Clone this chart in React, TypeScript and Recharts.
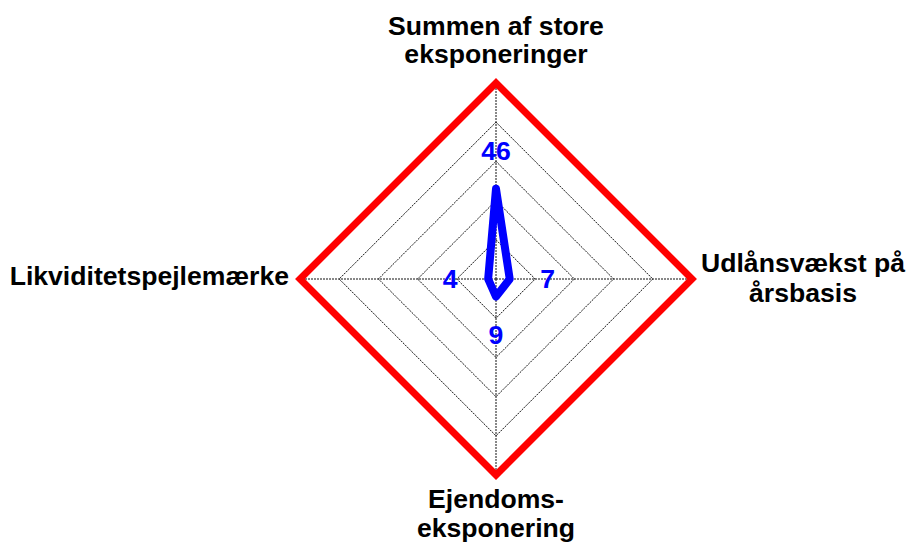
import React from 'react';
import { RadarChart, Radar, PolarGrid, PolarAngleAxis, PolarRadiusAxis } from 'recharts';

const categories = [
  'Summen af store eksponeringer',
  'Udlånsvækst på årsbasis',
  'Ejendomseksponering',
  'Likviditetspejlemærke',
];
const categoryLines: string[][] = [
  ['Summen af store', 'eksponeringer'],
  ['Udlånsvækst på', 'årsbasis'],
  ['Ejendoms-', 'eksponering'],
  ['Likviditetspejlemærke'],
];
const values = [46, 7, 9, 4];
const limits = [100, 100, 100, 100];
const radiusDomain = [0, 100];

const data = categories.map((c, i) => ({ category: c, value: values[i], limit: limits[i] }));

const CX = 496;
const CY = 279;
const R = 196;
const FONT = '"Liberation Sans", Arial, Helvetica, sans-serif';
const FS = 26.6;

const tickLayout = [
  { anchor: 'middle', dx: 0, baselines: [-R - 48, -R - 20] },
  { anchor: 'middle', dx: R + 111, baselines: [-7, 23] },
  { anchor: 'middle', dx: 0, baselines: [R + 33, R + 62] },
  { anchor: 'end', dx: -R - 11, baselines: [6] },
];

const AngleTick = (props: any) => {
  const { payload } = props;
  const i = categories.indexOf(payload?.value);
  if (i < 0) return <g />;
  const lay = tickLayout[i];
  const lines = categoryLines[i];
  return (
    <g>
      {lines.map((ln, k) => (
        <text
          key={k}
          x={CX + lay.dx}
          y={CY + lay.baselines[k]}
          textAnchor={lay.anchor as any}
          fontFamily={FONT}
          fontWeight="bold"
          fontSize={FS}
          fill="#000"
        >
          {ln}
        </text>
      ))}
    </g>
  );
};

const ValueLabelDot = (props: any) => {
  const { cx, cy, index, payload } = props;
  const n = categories.length;
  const angle = typeof payload?.angle === 'number' ? payload.angle : 90 - (index * 360) / n;
  const val = payload?.value ?? values[index];
  const rad = (angle * Math.PI) / 180;
  const off = 38;
  const lx = cx + off * Math.cos(rad);
  const ly = cy - off * Math.sin(rad);
  return (
    <text
      key={`lbl-${index}`}
      x={lx}
      y={ly + 9}
      textAnchor="middle"
      fontFamily={FONT}
      fontWeight="bold"
      fontSize={FS}
      fill="#0000ff"
    >
      {val}
    </text>
  );
};

export default function App() {
  return (
    <div style={{ position: 'absolute', left: 0, top: 0, width: 907, height: 544, background: '#fff' }}>
      <RadarChart
        width={907}
        height={544}
        cx={CX}
        cy={CY}
        outerRadius={R}
        data={data}
        margin={{ top: 0, right: 0, bottom: 0, left: 0 }}
      >
        <PolarGrid gridType="polygon" stroke="#111" strokeDasharray="2 1" strokeWidth={1} />
        <PolarAngleAxis dataKey="category" tick={<AngleTick />} tickLine={false} axisLine={false} />
        <PolarRadiusAxis domain={radiusDomain as any} tickCount={6} tick={false} axisLine={false} />
        <Radar
          dataKey="limit"
          stroke="#ff0000"
          strokeWidth={7}
          strokeLinejoin="miter"
          fill="none"
          fillOpacity={0}
          isAnimationActive={false}
          dot={false}
        />
        <Radar
          dataKey="value"
          stroke="#0000ff"
          strokeWidth={8}
          strokeLinejoin="round"
          fill="none"
          fillOpacity={0}
          isAnimationActive={false}
          dot={<ValueLabelDot />}
        />
      </RadarChart>
    </div>
  );
}
